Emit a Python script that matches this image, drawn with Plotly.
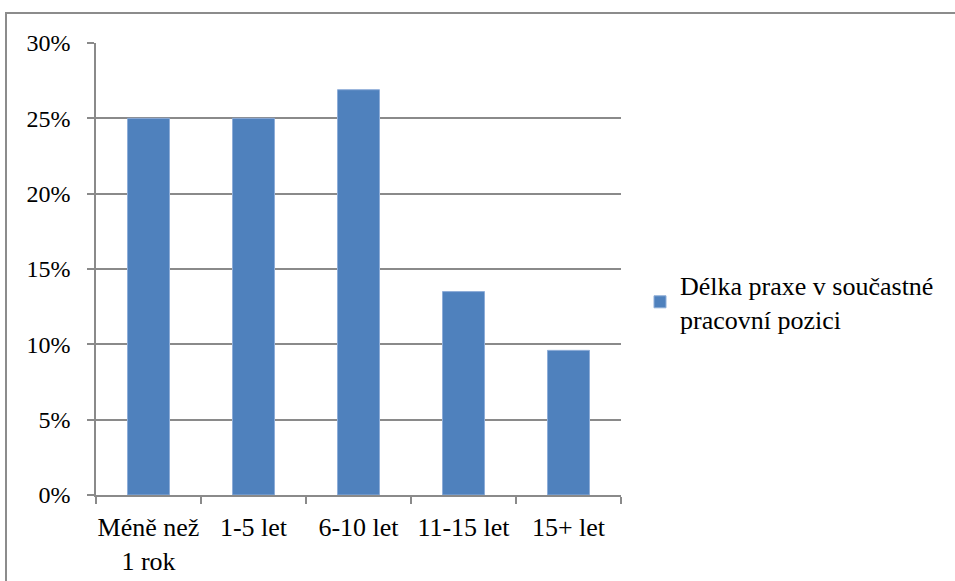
import plotly.graph_objects as go

categories = ["Méně než<br>1 rok", "1-5 let", "6-10 let", "11-15 let", "15+ let"]
values = [0.25, 0.25, 0.269, 0.135, 0.096]
series_name = "Délka praxe v součastné<br>pracovní pozici"
y_ticks = [0, 0.05, 0.10, 0.15, 0.20, 0.25, 0.30]
y_tick_labels = ["0%", "5%", "10%", "15%", "20%", "25%", "30%"]

W, H = 955, 581
L, R, T, B = 96, 621, 43, 495
pw, ph = R - L, B - T

def px_x(px):
    return (px - L) / pw

def px_y(py):
    return (B - py) / ph

family = "Liberation Serif, Times New Roman, serif"
font_x = dict(family=family, size=26, color="black")
font_y = dict(family=family, size=24, color="black")
font_leg = dict(family=family, size=26, color="black")
grid = "#8a8a8a"

fig = go.Figure()
fig.add_trace(go.Bar(
    x=categories, y=values, name=series_name,
    marker=dict(color="#4F81BD", line=dict(color="#8EADD8", width=1)),
    showlegend=True,
))

fig.update_layout(
    width=W, height=H,
    margin=dict(l=L, r=W - R, t=T, b=H - B, autoexpand=False),
    paper_bgcolor="white", plot_bgcolor="white",
    font=font_x,
    bargap=0.6,
    showlegend=True,
    legend=dict(
        xref="container", yref="container",
        x=640 / W, y=1 - 302 / H, xanchor="left", yanchor="middle",
        font=font_leg, bgcolor="rgba(0,0,0,0)", itemwidth=30,
    ),
    xaxis=dict(
        type="category", showline=True, linecolor=grid, linewidth=1.5,
        ticks="outside", tickson="boundaries", ticklen=7, tickcolor=grid, tickwidth=1.5,
        showgrid=False, tickfont=font_x, tickangle=0, automargin=False,
        ticklabelstandoff=8,
    ),
    yaxis=dict(
        range=[0, 0.30], tickvals=y_ticks, ticktext=y_tick_labels,
        showline=True, linecolor=grid, linewidth=1.5,
        ticks="outside", ticklen=7, tickcolor=grid, tickwidth=1.5,
        showgrid=True, gridcolor=grid, gridwidth=1.5, zeroline=False,
        tickfont=font_y, ticklabelstandoff=12, automargin=False,
    ),
    shapes=[dict(
        type="rect", xref="paper", yref="paper",
        x0=px_x(6), x1=px_x(990), y0=px_y(620), y1=px_y(13),
        line=dict(color="#8c8c8c", width=2), fillcolor="rgba(0,0,0,0)", layer="below",
    )],
)

fig.write_html("out.html", config={"displayModeBar": False},
               post_script="document.body.style.margin='0';")
